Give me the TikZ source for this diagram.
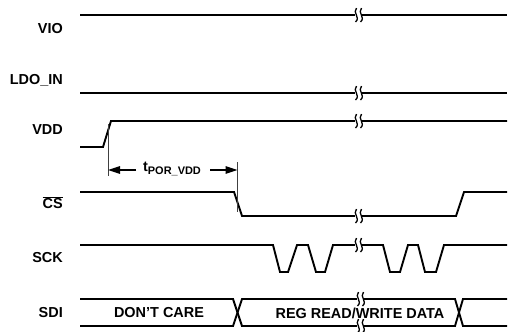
\documentclass[tikz,border=0pt]{standalone}
\usepackage{fontspec}
\setmainfont{Liberation Sans}
\usetikzlibrary{arrows.meta}
\begin{document}
\begin{tikzpicture}[x=1bp,y=-1bp,
  sig/.style={line width=1.9bp, line join=miter},
  lbl/.style={anchor=east, font=\fontsize{14.5}{16}\selectfont\bfseries, inner sep=0pt},
  txt/.style={font=\fontsize{14.5}{16}\selectfont\bfseries, inner sep=0pt},
  tickline/.style={line width=0.9bp, draw=black!75},
  dimarrow/.style={line width=1.4bp, -{Triangle[length=12bp,width=7.5bp]}},
  brk/.pic={
    \fill[white] (-3.5,-3) rectangle (3.5,3);
    \draw[line width=1.3bp] (-1.5,-7) .. controls (-6,-2) and (3,2) .. (-2.5,7);
    \draw[line width=1.3bp] (3.5,-7) .. controls (-1,-2) and (8,2) .. (2.5,7);
  }]
\useasboundingbox (0,0) rectangle (524,331);

% labels
\node[lbl] (lvio) at (63,29) {VIO};
\node[lbl] (lldo) at (63,80) {LDO\_IN};
\node[lbl] (lvdd) at (63,130) {VDD};
\node[lbl] (lcs)  at (63,203) {$\overline{\hbox{CS}}$};
\node[lbl] (lsck) at (63,258) {SCK};
\node[lbl] (lsdi) at (63,313) {SDI};

% VIO
\draw[sig] (80,15) -- (507,15);
\pic at (358,15) {brk};
% LDO_IN
\draw[sig] (80,93) -- (507,93);
\pic at (358,93) {brk};
% VDD
\draw[sig] (80,147) -- (103,147) -- (111,121) -- (507,121);
\pic at (358,121) {brk};
% CS
\draw[sig] (80,192) -- (234,192) -- (242,216) -- (456,216) -- (464,192) -- (507,192);
\pic at (358,216) {brk};
% SCK
\draw[sig] (80,245) -- (273,245) -- (280,272) -- (288,272) -- (297,245) -- (308,245)
  -- (316,272) -- (325,272) -- (333,245) -- (383,245) -- (390,272) -- (400,272)
  -- (408,245) -- (418,245) -- (425,272) -- (436,272) -- (444,245) -- (507,245);
\pic at (358,245) {brk};
% SDI
\draw[sig] (80,299) -- (233,299) -- (242,326) -- (455,326) -- (463,299) -- (507,299);
\draw[sig] (80,326) -- (233,326) -- (242,299) -- (455,299) -- (463,326) -- (507,326);
\pic at (360,299) {brk};
\pic at (360,326) {brk};
\node[txt] (dc) at (159,313) {DON{\char"27}T CARE};
\node[txt] (reg) at (360,313) {REG READ/WRITE DATA};

% t_POR_VDD dimension
\coordinate (ta) at (108,124);
\coordinate (tb) at (108,176);
\coordinate (tc) at (237.5,162);
\coordinate (td) at (237.5,212);
\draw[tickline] (ta) -- (tb);
\draw[tickline] (tc) -- (td);
\node[txt] (tpor) at (172,169) {t\raisebox{-0.45ex}{\fontsize{11}{12}\selectfont POR\_VDD}};
\coordinate (al) at (108,170);
\coordinate (ar) at (237.5,170);
\draw[dimarrow] (136,170) -- (al);
\draw[dimarrow] (210,170) -- (ar);
\end{tikzpicture}
\end{document}
